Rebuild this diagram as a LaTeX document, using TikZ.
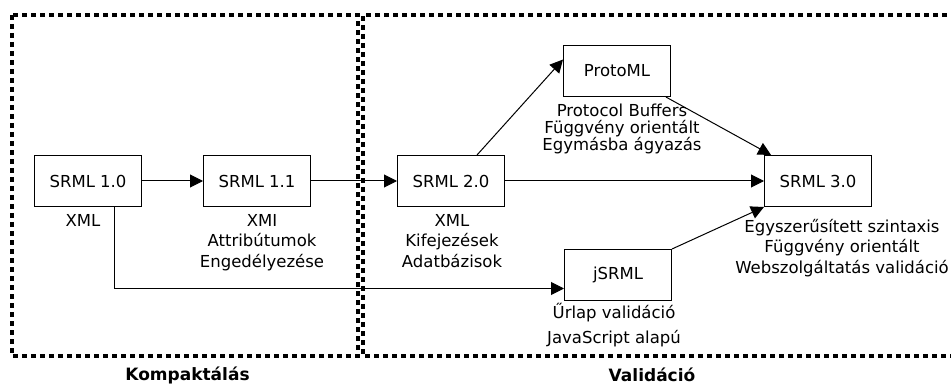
\documentclass[tikz,border=0pt]{standalone}
\usepackage{fontspec}
\setmainfont{DejaVu Sans}
\usetikzlibrary{
        arrows.meta,
        positioning
    }
\tikzset{>={Triangle[length=13pt,width=13pt]},node distance=2cm}

\begin{document}
\begin{tikzpicture}[x=1pt,y=-1pt,
    ver/.style={draw,line width=1pt,minimum width=107pt,minimum height=51pt,inner sep=0pt,font=\fontsize{16.5}{19}\selectfont},
    note/.style={align=center,inner sep=0pt,anchor=north,font=\fontsize{16.5}{20.5}\selectfont},
    link/.style={->,line width=1pt},
    phase/.style={line width=3.5pt,dash pattern=on 5pt off 4pt},
    phasename/.style={inner sep=0pt,font=\fontsize{17}{19}\selectfont\bfseries}]
                \useasboundingbox (0,0) rectangle (951,385);
                % phases
                \draw[phase] (12,15) rectangle (358,356);
                \draw[phase] (956,15) -| (363,356) -- (956,356);
                \node[phasename] (komp) at (187.5,375) {Kompaktálás};
                \node[phasename] (valid) at (652,375) {Validáció};
                % versions
                \node[ver] (v10) at (88,181) {SRML 1.0};
                \node[ver,right=61pt of v10] (v11) {SRML 1.1};
                \node[ver,right=86pt of v11] (v20) {SRML 2.0};
                \node[ver,right=259pt of v20] (v30) {SRML 3.0};
                \node[ver,above right=58pt and 58pt of v20] (proto) {ProtoML};
                \node[ver,below right=42pt and 59pt of v20] (js) {jSRML};
                % notes
                \node[note] (n10) at (83,214) {XML};
                \node[note] (n11) at (262,214) {XMI\\Attribútumok\\Engedélyezése};
                \node[note] (n20) at (452,214) {XML\\Kifejezések\\Adatbázisok};
                \node[note,font=\fontsize{16.5}{16.5}\selectfont] (nproto) at (622,104)
                    {Protocol Buffers\\Függvény orientált\\Egymásba ágyazás};
                \node[note] (n30) at (842,219)
                    {Egyszerűsített szintaxis\\Függvény orientált\\Webszolgáltatás validáció};
                \node[note,font=\fontsize{16.5}{25}\selectfont] (njs) at (614,303)
                    {Űrlap validáció\\JavaScript alapú};
                \path[link]
                    (v10) edge (v11)
                    (v11) edge (v20)
                    (v20) edge (v30)
                    (v20.45) edge (proto.168)
                    (proto.-28) edge (v30.151)
                    (js.north east) edge (v30.south west)
                ;
                \draw[link] (v10.-44) |- ([yshift=-13.5pt]js.west);
            \end{tikzpicture}
\end{document}
